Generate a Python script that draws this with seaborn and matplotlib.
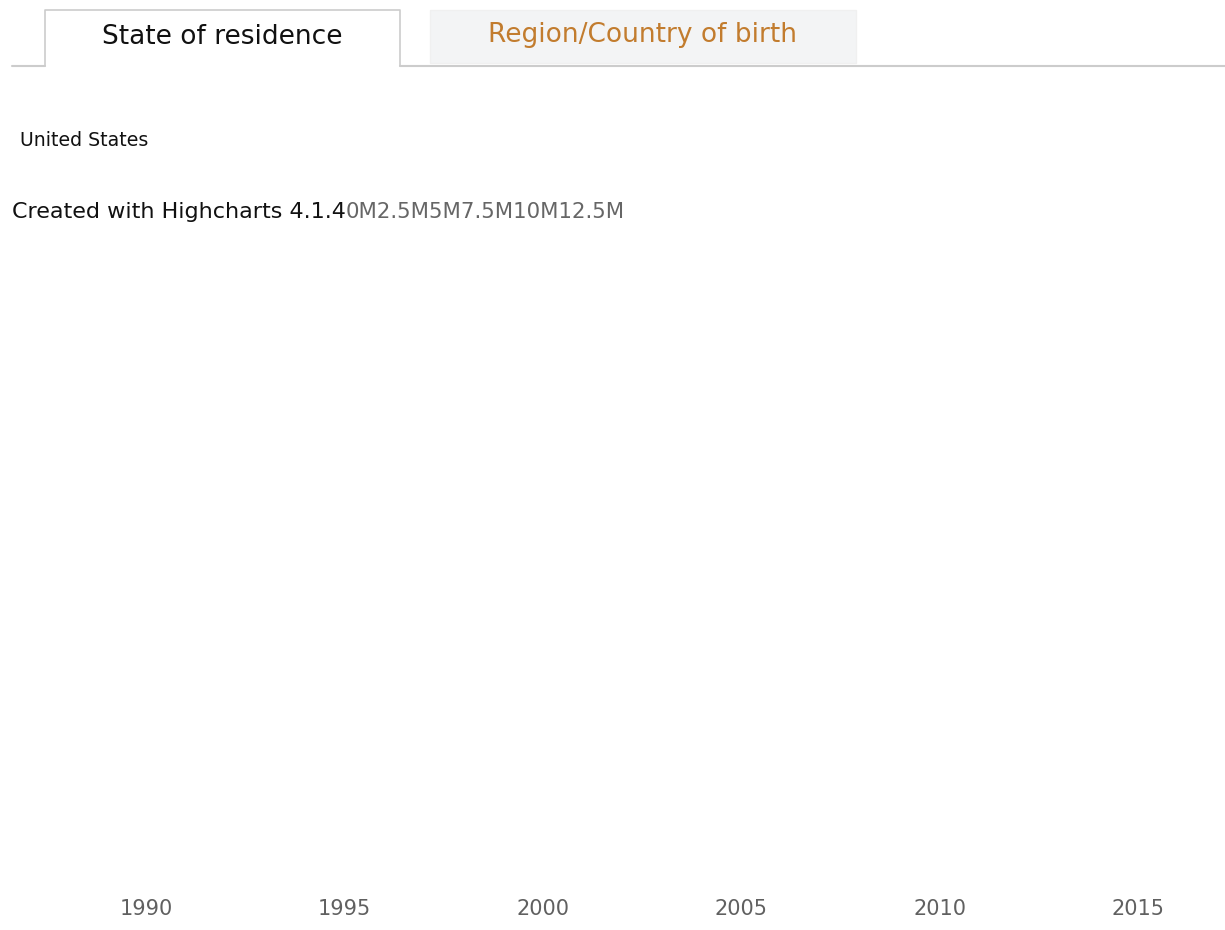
import matplotlib
matplotlib.use('Agg')
import matplotlib.pyplot as plt
import matplotlib.patches as patches
import seaborn as sns

# Chart content (the reference render carries no plotted series)
tab_labels = ["State of residence", "Region/Country of birth"]
region_name = "United States"
credits_text = "Created with Highcharts 4.1.4"
y_tick_labels = ["0M", "2.5M", "5M", "7.5M", "10M", "12.5M"]
x_years = [1990, 1995, 2000, 2005, 2010, 2015]

W, H = 1225, 930

sns.set_style("white")
plt.rcParams['font.family'] = ['DejaVu Sans']

fig = plt.figure(figsize=(W / 100, H / 100), dpi=100)

# -------------------------------------------------------
# Overlay in pixel coordinates: tabs and loose texts
# -------------------------------------------------------
over = fig.add_axes([0, 0, 1, 1])
over.set_xlim(0, W)
over.set_ylim(H, 0)
over.axis('off')

border = '#cccccc'
# baseline under the tabs
over.plot([12, 45], [66, 66], color=border, lw=1.5)
over.plot([400, W], [66, 66], color=border, lw=1.5)
# active tab outline
over.plot([45, 45, 400, 400], [66, 10, 10, 66], color=border, lw=1.2)
# inactive tab
over.add_patch(patches.Rectangle((430, 10), 426, 53, facecolor='#f3f4f5',
                                 edgecolor='#f0f0f0', lw=1))

over.text(222, 37, tab_labels[0], fontsize=19, color='#111111',
          ha='center', va='center')
over.text(642, 35, tab_labels[1], fontsize=19, color='#c27c2e',
          ha='center', va='center')

over.text(20, 141, region_name, fontsize=13.6, color='#111111',
          ha='left', va='center')

t = over.text(12, 212, credits_text, fontsize=16, color='#111111',
              ha='left', va='center')
fig.canvas.draw()
bb = t.get_window_extent()
over.text(bb.x1, 212, "".join(y_tick_labels), fontsize=15.3, color='#666666',
          ha='left', va='center')

# -------------------------------------------------------
# Empty plot area with the year axis
# -------------------------------------------------------
ax = fig.add_axes([12 / W, (H - 893) / H, (W - 12) / W, (893 - 240) / H])
ax.patch.set_alpha(0)
px_per_year = (1138 - 146) / 25
ax.set_xlim(1990 - (146 - 12) / px_per_year, 2015 + (W - 1138) / px_per_year)
ax.set_ylim(0, 12.5)
ax.set_xticks(x_years)
ax.set_xticklabels([str(y) for y in x_years], fontsize=15, color='#606060')
ax.set_yticks([])
ax.tick_params(axis='x', length=0, pad=4)
sns.despine(ax=ax, left=True, bottom=True)

fig.savefig('out.png', dpi=100)
